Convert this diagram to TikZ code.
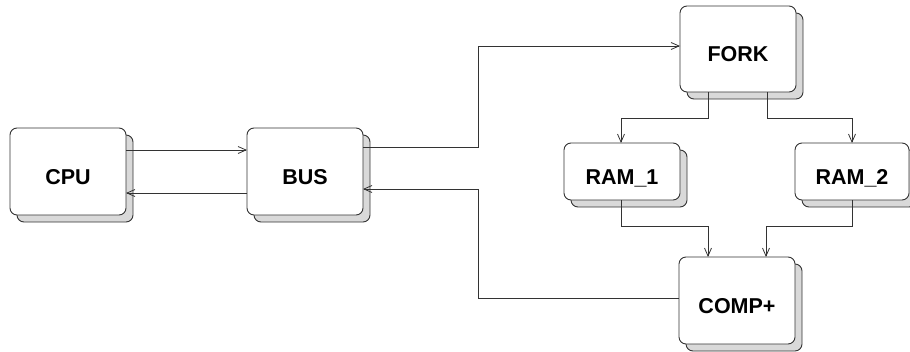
\documentclass[tikz,border=0pt]{standalone}
\usepackage{fontspec}
\setmainfont{Liberation Sans}
\usetikzlibrary{arrows.meta,shadows}
\definecolor{shade}{HTML}{D9D9D9}
\definecolor{ink}{HTML}{333333}
\tikzset{
  blk/.style={draw=ink, line width=0.9pt, fill=white, rounded corners=7pt,
    inner sep=0pt, outer sep=0pt, minimum width=116pt, minimum height=87pt,
    text height=25pt, text depth=0pt,
    font=\bfseries\fontsize{21.5}{24}\selectfont,
    general shadow={fill=shade, draw=ink, line width=0.9pt, shadow xshift=7pt, shadow yshift=-7pt}},
  arr/.style={draw=ink, line width=0.8pt, -{Straight Barb[length=8pt,width=7pt]}},
}
\begin{document}
\begin{tikzpicture}[x=1pt,y=-1pt]
\useasboundingbox (0,0) rectangle (910,351);
\node[blk] (cpu) at (68,171.5) {CPU};
\node[blk] (bus) at (305,171.5) {BUS};
\node[blk, minimum height=86pt] (fork) at (738,49) {FORK};
\node[blk, minimum height=57pt] (ram1) at (622,171.5) {RAM\_1};
\node[blk, minimum height=57pt, minimum width=114pt] (ram2) at (852,171.5) {RAM\_2};
\node[blk] (comp) at (737,300.5) {COMP+};
\draw[arr] (cpu.east |- 0,150) -- (bus.west |- 0,150);
\draw[arr] (bus.west |- 0,193) -- (cpu.east |- 0,193);
\draw[arr] (bus.east |- 0,147) -- (478,147) -- (478,46) -- (fork.west |- 0,46);
\draw[arr] (comp.west |- 0,298) -- (478,298) -- (478,189) -- (bus.east |- 0,189);
\draw[arr] (fork.south -| 708,0) -- (708,118) -- (621,118) -- (ram1.north -| 621,0);
\draw[arr] (fork.south -| 767,0) -- (767,118) -- (852,118) -- (ram2.north -| 852,0);
\draw[arr] (ram1.south -| 621,0) -- (621,226) -- (708,226) -- (comp.north -| 708,0);
\draw[arr] (ram2.south -| 852,0) -- (852,226) -- (766,226) -- (comp.north -| 766,0);
\end{tikzpicture}
\end{document}
